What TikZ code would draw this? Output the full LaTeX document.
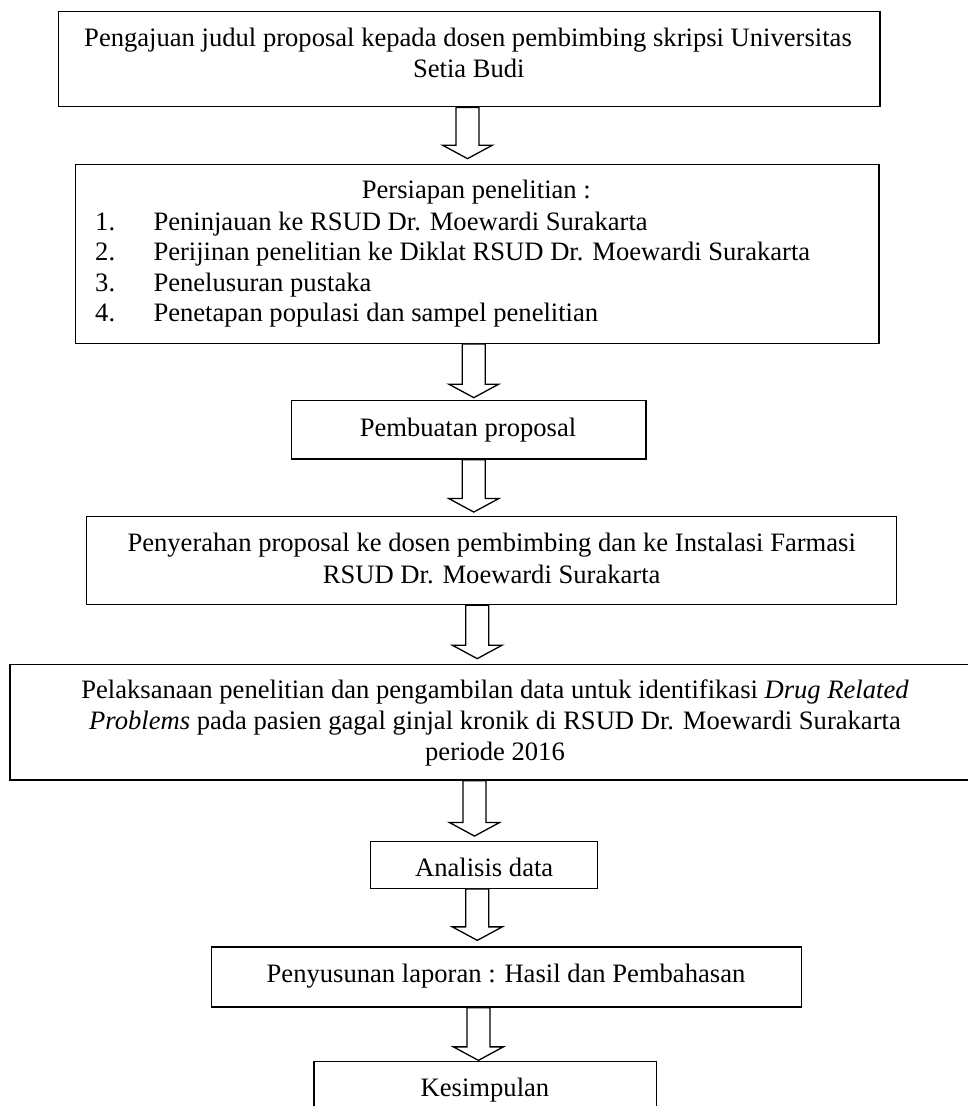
\documentclass[tikz,border=0pt]{standalone}
\usepackage{fontspec}
\setmainfont{Liberation Serif}
\usetikzlibrary{calc}
\tikzset{
  boxnode/.style={draw=black, line width=1.3pt, rectangle, inner sep=0pt, fill=none},
  txt/.style={inner sep=0pt, anchor=base, font=\fontsize{26.6pt}{30pt}\selectfont},
  txtl/.style={txt, anchor=base west},
  arrowline/.style={draw=black, line width=1.3pt, fill=white, line join=miter}
}
\newcommand\blockarrow[4]{%
  \coordinate (ax#1) at (#3,0);
  \coordinate (as#1) at (#1.south -| ax#1);
  \coordinate (at#1) at ($(#2.north -| ax#1)+(0,-#4)$);
  \draw[arrowline] ($(as#1)+(-11.5,0)$) -- ($(at#1)+(-11.5,-13.5)$) -- ($(at#1)+(-25,-13.5)$) -- (at#1) -- ($(at#1)+(25,-13.5)$) -- ($(at#1)+(11.5,-13.5)$) -- ($(as#1)+(11.5,0)$) -- cycle;}
\begin{document}
\begin{tikzpicture}[x=1pt,y=-1pt]
\useasboundingbox (0,0) rectangle (968,1106);
% boxes
\node[boxnode, minimum width=821.7pt, minimum height=95pt] (b1) at (469.15,59.2) {};
\node[boxnode, minimum width=803.3pt, minimum height=179pt] (b2) at (477.35,253.8) {};
\node[boxnode, minimum width=354.3pt, minimum height=58.3pt] (b3) at (468.85,429.85) {};
\node[boxnode, minimum width=810pt, minimum height=87.8pt] (b4) at (491.7,560.6) {};
\node[boxnode, minimum width=970pt, minimum height=115.7pt] (b5) at (495,722.15) {};
\node[boxnode, minimum width=227pt, minimum height=46.6pt] (b6) at (484.2,865) {};
\node[boxnode, minimum width=590.6pt, minimum height=60pt] (b7) at (506.5,977) {};
\node[boxnode, minimum width=342.7pt, minimum height=58.3pt] (b8) at (485.35,1090.85) {};
% texts
\node[txt] (t1a) at (468,46.7) {Pengajuan judul proposal kepada dosen pembimbing skripsi Universitas};
\node[txt] (t1b) at (468.8,77) {Setia Budi};
\node[txt] (t2) at (476.3,198.3) {Persiapan penelitian :};
\node[txtl] (n1) at (95,230) {1.};
\node[txtl] (i1) at (153.3,230) {Peninjauan ke RSUD Dr. Moewardi Surakarta};
\node[txtl] (n2) at (95,260.5) {2.};
\node[txtl] (i2) at (153.3,260.5) {Perijinan penelitian ke Diklat RSUD Dr. Moewardi Surakarta};
\node[txtl] (n3) at (95,291) {3.};
\node[txtl] (i3) at (153.3,291) {Penelusuran pustaka};
\node[txtl] (n4) at (95,321.5) {4.};
\node[txtl] (i4) at (153.3,321.5) {Penetapan populasi dan sampel penelitian};
\node[txt] (t3) at (468,436.7) {Pembuatan proposal};
\node[txt] (t4a) at (491.7,551.7) {Penyerahan proposal ke dosen pembimbing dan ke Instalasi Farmasi};
\node[txt] (t4b) at (491.7,583.3) {RSUD Dr. Moewardi Surakarta};
\node[txt] (t5a) at (495,698.3) {Pelaksanaan penelitian dan pengambilan data untuk identifikasi \textit{Drug Related}};
\node[txt] (t5b) at (495,729) {\textit{Problems} pada pasien gagal ginjal kronik di RSUD Dr. Moewardi Surakarta};
\node[txt] (t5c) at (495,760) {periode 2016};
\node[txt] (t6) at (484.2,876.7) {Analisis data};
\node[txt] (t7) at (506,982.7) {Penyusunan laporan : Hasil dan Pembahasan};
\node[txt] (t8) at (485,1096.7) {Kesimpulan};
% arrows
\blockarrow{b1}{b2}{467.5}{5}
\blockarrow{b2}{b3}{473.8}{2.4}
\blockarrow{b3}{b4}{473.8}{4}
\blockarrow{b4}{b5}{477.2}{5}
\blockarrow{b5}{b6}{474.5}{5}
\blockarrow{b6}{b7}{477.3}{6}
\blockarrow{b7}{b8}{478.4}{0.7}
\end{tikzpicture}
\end{document}
